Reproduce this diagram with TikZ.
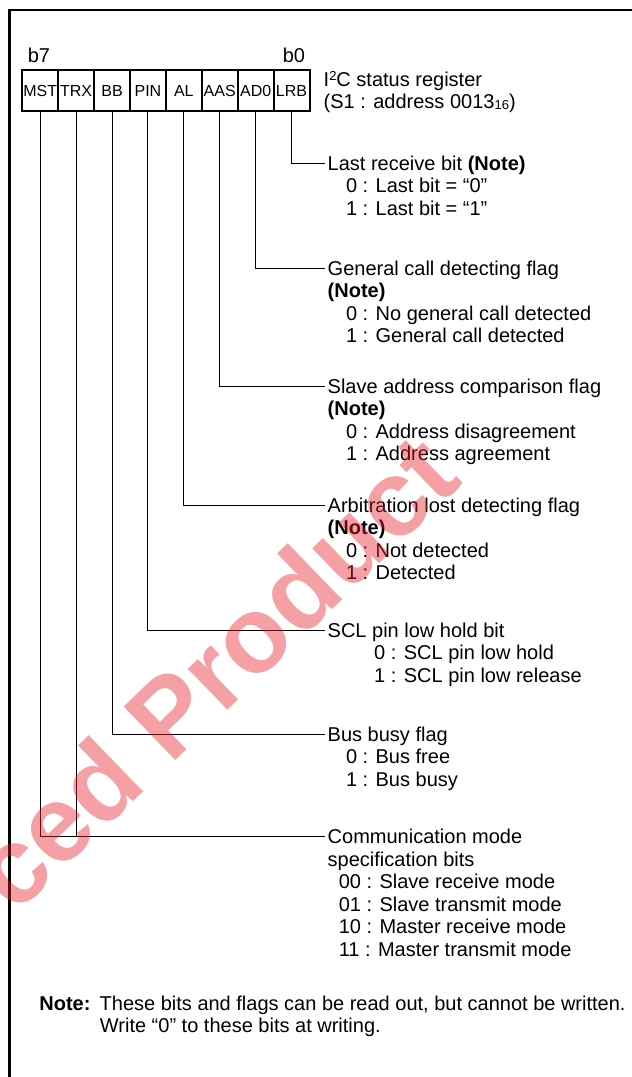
\documentclass[tikz,border=0pt]{standalone}
\usepackage{fontspec}
\setmainfont{Liberation Sans}
\definecolor{wmred}{RGB}{230,30,40}
\newcommand{\mainfs}{\fontsize{20}{22.5}\selectfont}
\newcommand{\smallfs}{\fontsize{13}{13}\selectfont}
\begin{document}
\begin{tikzpicture}[x=1pt,y=-1pt,
  lbl/.style={anchor=base west, inner sep=0pt, font=\mainfs},
  bitno/.style={inner sep=0pt, font=\mainfs},
  cell/.style={draw, line width=2pt, minimum width=35.9pt, minimum height=41pt, inner sep=0pt, font=\fontsize{16}{18}\selectfont},
  lead/.style={line width=1pt},
  frameline/.style={line width=2.5pt}]
\useasboundingbox (0,0) rectangle (632,1077);
\fill[white] (0,0) rectangle (632,1077);
% frame
\coordinate (fb) at (9.5,1077);
\coordinate (fc) at (9.5,10);
\coordinate (fr) at (632,10);
\draw[frameline] (fb) -- (fc) -- (fr);
% register cells
\node[cell] (cMST) at (40.25,90.5) {MST};
\node[cell] (cTRX) at (76.15,90.5) {TRX};
\node[cell] (cBB)  at (112.05,90.5) {BB};
\node[cell] (cPIN) at (147.95,90.5) {PIN};
\node[cell] (cAL)  at (183.85,90.5) {AL};
\node[cell] (cAAS) at (219.75,90.5) {AAS};
\node[cell] (cAD0) at (255.65,90.5) {AD0};
\node[cell] (cLRB) at (291.55,90.5) {LRB};
\node[bitno] (b7) at (39,55) {b7};
\node[bitno] (b0) at (294,55) {b0};
\node[lbl] (reg1) at (323.5,86) {I\raisebox{5.5pt}{\smallfs 2}C status register};
\node[lbl] (reg2) at (323.5,108.5) {(S1 : address 0013\raisebox{-1pt}{\smallfs 16})};
% leader end points
\coordinate (eLRB) at (325,163.3);
\coordinate (eAD0) at (325,268);
\coordinate (eAAS) at (325,386);
\coordinate (eAL)  at (325,505);
\coordinate (ePIN) at (325,630);
\coordinate (eBB)  at (325,734.3);
\coordinate (eMST) at (325,836.7);
\draw[lead] (cLRB.south) |- (eLRB);
\draw[lead] (cAD0.south) |- (eAD0);
\draw[lead] (cAAS.south) |- (eAAS);
\draw[lead] (cAL.south)  |- (eAL);
\draw[lead] (cPIN.south) |- (ePIN);
\draw[lead] (cBB.south)  |- (eBB);
\draw[lead] (cMST.south) |- (eMST);
\draw[lead] (cTRX.south) -- (cTRX.south |- eMST);
% texts
\node[lbl] (tLRB1) at (327.5,170.3) {Last receive bit \textbf{(Note)}};
\node[lbl] (tLRB2) at (345.8,192.8) {0 : Last bit = “0”};
\node[lbl] (tLRB3) at (345.8,215.3) {1 : Last bit = “1”};
\node[lbl] (tAD01) at (327.5,275) {General call detecting flag};
\node[lbl] (tAD02) at (327.5,297.5) {\textbf{(Note)}};
\node[lbl] (tAD03) at (345.8,320) {0 : No general call detected};
\node[lbl] (tAD04) at (345.8,342.5) {1 : General call detected};
\node[lbl] (tAAS1) at (327.5,393) {Slave address comparison flag};
\node[lbl] (tAAS2) at (327.5,415.5) {\textbf{(Note)}};
\node[lbl] (tAAS3) at (345.8,438) {0 : Address disagreement};
\node[lbl] (tAAS4) at (345.8,460.5) {1 : Address agreement};
\node[lbl] (tAL1) at (327.5,512) {Arbitration lost detecting flag};
\node[lbl] (tAL2) at (327.5,534.5) {\textbf{(Note)}};
\node[lbl] (tAL3) at (345.8,557) {0 : Not detected};
\node[lbl] (tAL4) at (345.8,579.5) {1 : Detected};
\node[lbl] (tPIN1) at (327.5,637) {SCL pin low hold bit};
\node[lbl] (tPIN2) at (374,659.5) {0 : SCL pin low hold};
\node[lbl] (tPIN3) at (374,682) {1 : SCL pin low release};
\node[lbl] (tBB1) at (327.5,741.3) {Bus busy flag};
\node[lbl] (tBB2) at (345.8,763.8) {0 : Bus free};
\node[lbl] (tBB3) at (345.8,786.3) {1 : Bus busy};
\node[lbl] (tMST1) at (327.5,843.7) {Communication mode};
\node[lbl] (tMST2) at (327.5,866.2) {specification bits};
\node[lbl] (tMST3) at (338.6,888.7) {00 : Slave receive mode};
\node[lbl] (tMST4) at (338.6,911.2) {01 : Slave transmit mode};
\node[lbl] (tMST5) at (338.6,933.7) {10 : Master receive mode};
\node[lbl] (tMST6) at (338.6,956.2) {11 : Master transmit mode};
\node[lbl] (note1) at (39.2,1010) {\textbf{Note:}};
\node[lbl] (note2) at (99.5,1010) {These bits and flags can be read out, but cannot be written.};
\node[lbl] (note3) at (99.7,1032.5) {Write “0” to these bits at writing.};
% watermark
\node[font=\fontsize{108}{108}\selectfont\bfseries, text=wmred, opacity=0.42, rotate=44, inner sep=0pt] (wm) at (213,671) {ced Product};
\end{tikzpicture}
\end{document}
